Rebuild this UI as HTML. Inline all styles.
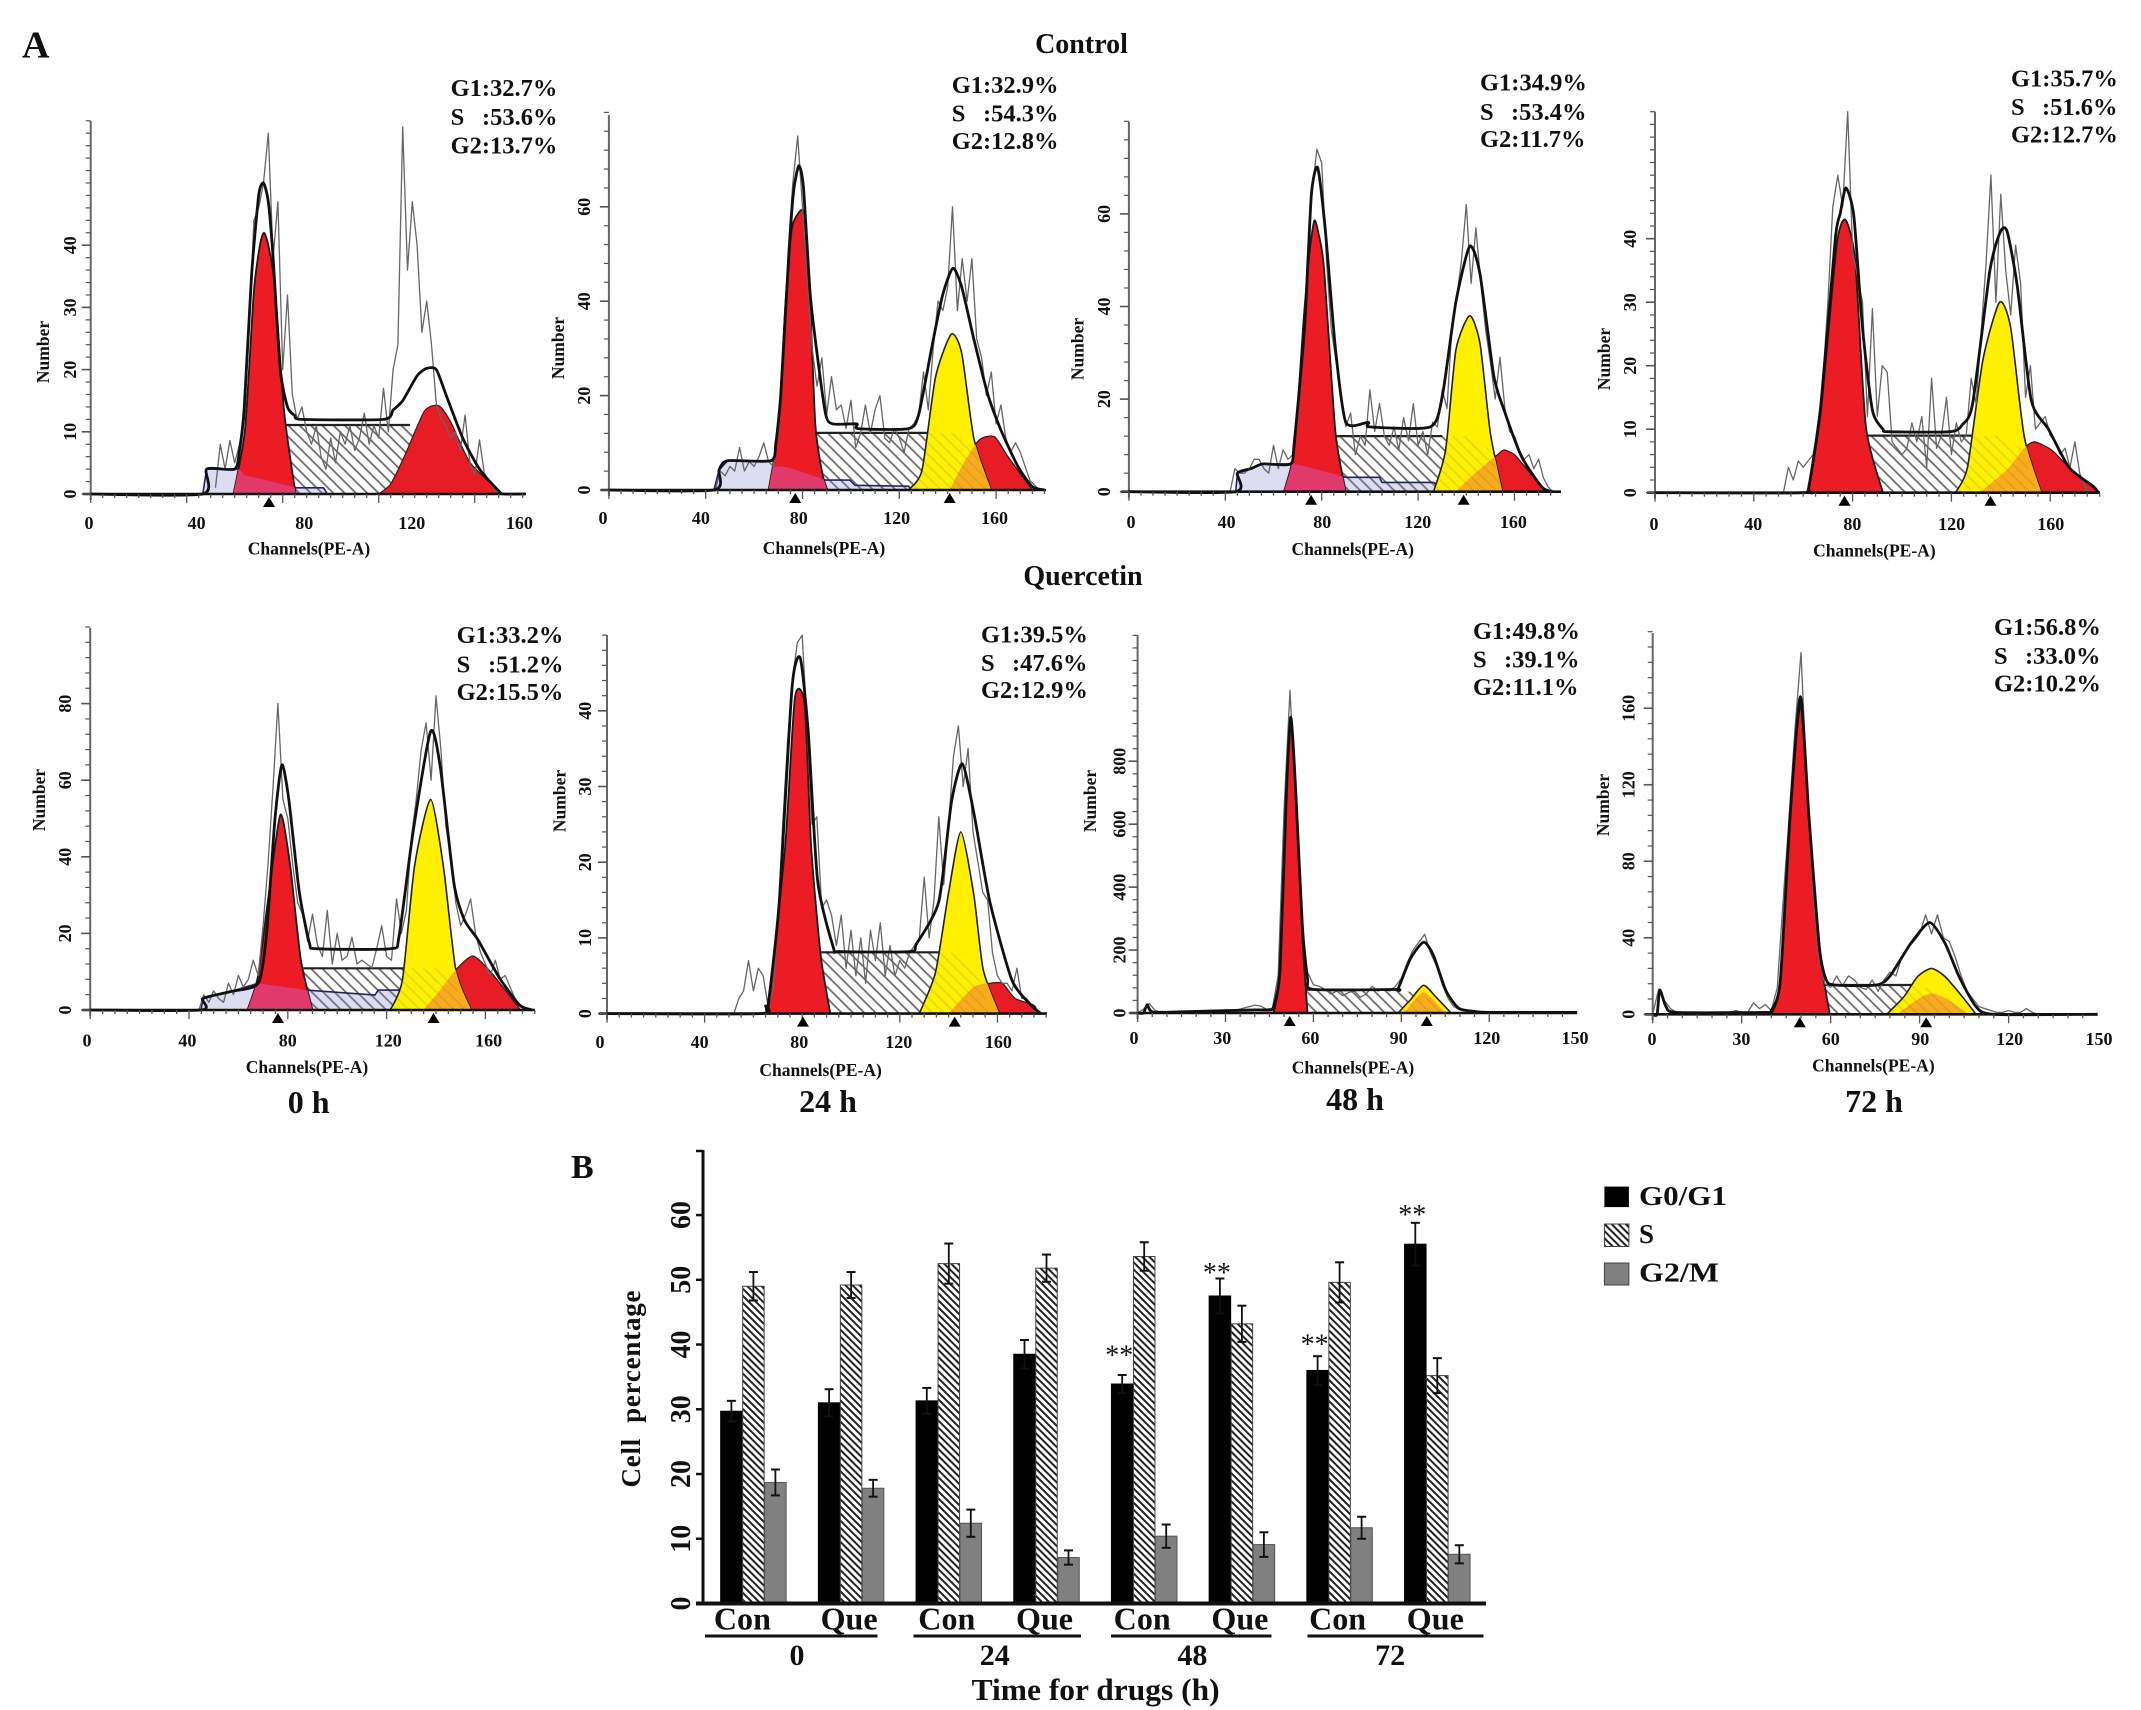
<!DOCTYPE html>
<html lang="en">
<head>
<meta charset="utf-8">
<title>Cell cycle analysis</title>
<style>
html,body{margin:0;padding:0;background:#fff;}
svg{display:block;}
text{font-family:"Liberation Serif",serif;font-weight:bold;fill:#111;}
.stat{font-size:24.5px;}
.ttl{font-size:28px;text-anchor:middle;}
.hr{font-size:32px;text-anchor:middle;}
.ax{font-size:17.5px;}
.tk{font-size:18px;text-anchor:middle;}
</style>
</head>
<body>
<svg id="figure" xmlns="http://www.w3.org/2000/svg" width="2141" height="1710" viewBox="0 0 2141 1710">
<defs id="defs">
<pattern id="hatch" width="8" height="8" patternUnits="userSpaceOnUse" patternTransform="rotate(45)"><rect width="8" height="8" fill="#fff"/><line x1="0" y1="1" x2="8" y2="1" stroke="#666" stroke-width="1.7"/></pattern>
<pattern id="hatchClear" width="8" height="8" patternUnits="userSpaceOnUse" patternTransform="rotate(45)"><line x1="0" y1="1" x2="8" y2="1" stroke="#666" stroke-width="1.7"/></pattern>
<pattern id="hatchDense" width="5" height="5" patternUnits="userSpaceOnUse" patternTransform="rotate(45)"><rect width="5" height="5" fill="#fff"/><line x1="0" y1="1" x2="5" y2="1" stroke="#222" stroke-width="2"/></pattern>
</defs>
<rect width="2141" height="1710" fill="#fff"/>

<text x="22" y="57.5" font-size="38">A</text>
<text x="571" y="1178" font-size="34">B</text>
<text class="ttl" x="1081.5" y="53">Control</text>
<text class="ttl" x="1083" y="585">Quercetin</text>
<text class="hr" x="308.6" y="1113">0 h</text>
<text class="hr" x="828" y="1112">24 h</text>
<text class="hr" x="1355" y="1110">48 h</text>
<text class="hr" x="1874" y="1112">72 h</text>

<g id="histograms"></g>
<g id="bars">
<line x1="705" x2="877.5" y1="1636" y2="1636" stroke="#111" stroke-width="3"/>
<line x1="913.5" x2="1081" y1="1636" y2="1636" stroke="#111" stroke-width="3"/>
<line x1="1111" x2="1271.5" y1="1636" y2="1636" stroke="#111" stroke-width="3"/>
<line x1="1307.5" x2="1483.5" y1="1636" y2="1636" stroke="#111" stroke-width="3"/>
</g>

<g class="stat">
<text class="stat" x="450.6" y="96">G1:32.7%</text><text class="stat" x="450.6" y="125">S<tspan x="482">:53.6%</tspan></text><text class="stat" x="450.6" y="153.5">G2:13.7%</text></g>
<g>
<text class="stat" x="951.7" y="93">G1:32.9%</text><text class="stat" x="951.7" y="121.7">S<tspan x="983">:54.3%</tspan></text><text class="stat" x="951.7" y="149">G2:12.8%</text></g>
<g>
<text class="stat" x="1480" y="90.7">G1:34.9%</text><text class="stat" x="1480" y="120">S<tspan x="1511">:53.4%</tspan></text><text class="stat" x="1480" y="147">G2:11.7%</text></g>
<g>
<text class="stat" x="2011" y="86.7">G1:35.7%</text><text class="stat" x="2011" y="115">S<tspan x="2042">:51.6%</tspan></text><text class="stat" x="2011" y="142.7">G2:12.7%</text></g>
<g>
<text class="stat" x="456.6" y="643">G1:33.2%</text><text class="stat" x="456.6" y="672.7">S<tspan x="488">:51.2%</tspan></text><text class="stat" x="456.6" y="700">G2:15.5%</text></g>
<g>
<text class="stat" x="981" y="642.5">G1:39.5%</text><text class="stat" x="981" y="671">S<tspan x="1012">:47.6%</tspan></text><text class="stat" x="981" y="698">G2:12.9%</text></g>
<g>
<text class="stat" x="1473" y="639">G1:49.8%</text><text class="stat" x="1473" y="667.5">S<tspan x="1504">:39.1%</tspan></text><text class="stat" x="1473" y="695">G2:11.1%</text></g>
<g>
<text class="stat" x="1994" y="635">G1:56.8%</text><text class="stat" x="1994" y="664">S<tspan x="2025">:33.0%</tspan></text><text class="stat" x="1994" y="691.7">G2:10.2%</text></g>

<g>
<rect x="1604.4" y="1186.6" width="24.5" height="20.5" fill="#000"/>
<text x="1639" y="1205" font-size="27" textLength="88" lengthAdjust="spacingAndGlyphs">G0/G1</text>
<rect x="1604.4" y="1224" width="24.5" height="22.5" fill="url(#hatchDense)" stroke="#444"/>
<text x="1639" y="1243" font-size="27">S</text>
<rect x="1604.4" y="1263" width="24.5" height="22" fill="#808080" stroke="#444"/>
<text x="1639" y="1281.7" font-size="27" textLength="80" lengthAdjust="spacingAndGlyphs">G2/M</text>
</g>
</svg>

<script>
// ---- Histogram data: [channel, count] ----
const ctrl0G1 = [[59.5,0],[64.3,10.4],[68,32.6],[70.5,40],[72.2,42],[74,40],[76.6,33.8],[80.6,13.3],[85,1],[86,0]];
const ctrl0Yellow = [];
const ctrl0Tail = [[120,0],[125,1.6],[131,6.3],[139,13.3],[145,14.2],[150,11.6],[158,5.1],[170,0.5],[171,0]];
const ctrl0S = [[78,11.1],[133,11.1],[136,10],[142,10],[150,0],[84,0]];
const ctrl0Debris = [[46.7,0],[48.3,4],[62,4],[64,3],[70,2.5],[85.8,1],[97,1],[98.6,0]];
const ctrl0Env = [[0,0],[46.7,0],[48.3,4],[60,4],[62,7],[64,14],[67,35],[70,48],[72,50],[74,47],[76,38],[79,20],[82,14],[85,12.6],[88,12],[122,12],[126,13.5],[130,15],[136,19],[140,20.2],[144,20],[148,16],[155,9],[162,4],[170,0.5],[172,0],[181,0]];
const ctrl0Noise = [1,8,4,8.6,5,8,12,26,44,46,50,58,38,47,20,32,16,12,14,10,8,11,6,4,9,5,10,8,11,7,9,13,8,11,9,17,10,20,24,59,36,47,40,26,31,24,14.5,12,11,9,10,7,12.7,5,3,8.7,3.4,2,1,0];
const ctrl0Arrows = [74.3];

const ctrl24G1 = [[66,0],[70,13],[73,40],[75.5,55],[77.5,58],[80.4,59],[82.5,48],[85.3,14],[88.2,3.5],[90.3,0]];
const ctrl24Yellow = [[123.8,0],[129.4,4.2],[135,24],[141.5,33],[145.8,29],[150.8,11],[158,0]];
const ctrl24Tail = [[140.8,0],[146.5,5.6],[153,10.6],[159.3,11.3],[165,7],[175,0]];
const ctrl24S = [[83,12.1],[134,12.1],[146,12],[152,9],[158,0],[88,0]];
const ctrl24Debris = [[43.4,0],[45.5,4.2],[49,6.2],[68,6.2],[68.2,5],[74,4.8],[89.6,2.1],[99.6,2.1],[101.7,1],[123.8,0.8],[125,0]];
const ctrl24Env = [[0,0],[43.4,0],[45.5,4.2],[49,6.2],[67,6.2],[69,10],[71,20],[73,38],[75,55],[76.5,64],[78.5,68.7],[80.4,64],[83.2,41.5],[86,29],[89.6,16],[92.5,14],[102.4,14],[103,13],[123.8,13],[128,16],[133.7,31],[138,41.5],[142.2,47],[145.8,43],[150.8,32],[156.5,20.4],[162,12.7],[169,5],[175,0.7],[180,0]];
const ctrl24Noise = [0,4,3,5,4,9,4,6,5,7,10,6,5,12,25,50,65,75,60,45,30,22,28,16,24,17,18,13,19,9,12,18,12,17,20,11,10,13,11,8,13,14,16,25,17,30,40,38,43,60,38,49,40,49,32,28,20,25,14,18,11,8,10,8,5,2,1,0];
const ctrl24Arrows = [77,140.8];

const ctrl48G1 = [[64.3,0],[68.6,9],[72.5,37],[75,52],[77,58.6],[79,55],[81,48],[85.7,13],[90,0]];
const ctrl48Yellow = [[126.4,0],[131.4,9],[135.7,30.6],[141.4,38],[145.7,32],[150,12.6],[155,0]];
const ctrl48Tail = [[135.7,0],[144.3,4.3],[152.9,8],[155.7,9],[160,8],[164.3,5.4],[171.4,1],[175.7,0]];
const ctrl48S = [[83,12],[130,12],[142,12],[150,9],[155,0],[88,0]];
const ctrl48Debris = [[44.3,0],[45,4],[50.7,5],[55.7,6],[68.6,6],[72,5.6],[90,3.1],[104,3.1],[105,2],[126.4,2],[133,0]];
const ctrl48Env = [[0,0],[44.3,0],[45,4],[50.7,5],[55.7,6],[67,6],[68.6,10.4],[72.9,35.6],[75.7,64],[78.3,70],[81.4,57],[85.7,31],[90,15],[99.3,15],[100,14],[125,14],[130,20.5],[135.7,41],[141.4,53],[145.7,47],[151.4,25],[155.7,17.6],[162.9,7.6],[171.4,1],[175.7,0]];
const ctrl48Noise = [0,5,4,4,5,7,7,5,4,10,5,9,7,8,15,28,50,65,74,71,50,35,28,21,14,17,8,12,10,22,13,19,12,10,14,9,16,11,19,10,13,8,15,14,22,18,35,42,50,62,45,57,45,35,28,20,29,18,13,12,9,7,8,5,7,3,1,0];
const ctrl48Arrows = [75.6,138.9];

const ctrl72G1 = [[60,0],[62.3,1],[67.2,13],[73.5,38.8],[77,43],[81,36.7],[85.4,10.4],[92.3,0]];
const ctrl72Yellow = [[121.6,0],[126.5,4],[132.8,21],[139.5,30],[144,26],[149.5,8.8],[156.5,0]];
const ctrl72Tail = [[131.4,0],[142.5,3.6],[149.5,7],[153.7,8],[160.7,6.7],[167.6,4],[177.4,1],[179.5,0]];
const ctrl72S = [[84,9],[130,9],[140,9],[148,7],[155,0],[90,0]];
const ctrl72Debris = [];
const ctrl72Env = [[0,0],[60,0],[62.3,1],[67.2,14],[73,40],[75,44],[77.3,48],[80.5,43.6],[84,26],[88,13],[92.3,10],[94.4,9.6],[119.5,9.6],[124.4,10.7],[128.6,14],[135.6,35],[139.7,41],[142.5,41.2],[146.7,32.5],[152.3,14.6],[159.3,10],[167.6,4],[177.4,1],[179.5,0]];
const ctrl72Noise = [0,4,2,5,4,5,6,10,18,30,45,50,45,60,38,34,30,12,29,12,20,19,8,7,6,7,11,8,12,4,18,7,9,15,6,11,8,9,18,14,25,36,50,30,47,35,28,39,33,15,20,10,11,12,9,8,6,7,4,8,3,1,0];
const ctrl72Arrows = [76.7,135.8];

const que0G1 = [[63.7,0],[67.9,8.7],[72,28.7],[77,51],[81,37.5],[85.3,13],[90,0]];
const que0Yellow = [[121.5,0],[126.4,7.8],[131.3,37.5],[137.8,55],[143,37.5],[148,10.5],[154.3,0]];
const que0Tail = [[134.8,0],[141.7,5.2],[148,10.5],[155,14.1],[162.6,9.6],[173.8,0.4],[175,0]];
const que0S = [[83,10.9],[128,10.9],[140,10.9],[146,9],[152,0],[88,0]];
const que0Debris = [[44.9,0],[45.6,3],[56.7,4.8],[68,7],[87.4,5.2],[115.3,3.9],[116.6,5.2],[126.4,5.2],[133.4,6],[139,3.5],[121,0]];
const que0Env = [[0,0],[44.9,0],[45.6,3],[56.7,4.8],[68,7],[71.4,20],[74.8,50],[77.6,64],[80.4,55],[84.6,31],[88.8,17.4],[91.6,16],[121.5,16],[125,19],[130.6,46],[137.8,72.7],[141.7,63.6],[147.3,33],[151.5,23.5],[157,18.3],[165.4,8.7],[173.8,1.3],[179,0]];
const que0Noise = [0,4,2,5,3,2,7,4,9,6,8,13,9,22,38,58,80,55,50,38,28,25,18,25,17,14,26,12,20,13,14,19,12,13,12,11,16,22,14,13,29,20,26,45,55,68,75,60,82,68,48,40,28,22,25,29,20,15,12,9,13,8,9,6,3,1,0];
const que0Arrows = [76,139];

const que24G1 = [[66,0],[73,22],[77,41.7],[81,40.8],[83.7,22],[87.6,7.7],[91.5,0]];
const que24Yellow = [[128,0],[134.6,5.4],[139.9,15.8],[145,24],[150.3,15.8],[154.2,5.8],[160.8,0]];
const que24Tail = [[139.9,0],[150.3,3.5],[156.9,4],[162,4],[167.3,2],[175,1.1],[176.5,0]];
const que24S = [[84,8.1],[137,8.1],[146,8],[152,5],[157,0],[90,0]];
const que24Debris = [];
const que24Env = [[0,0],[62.7,0],[65,1],[66,1],[70.6,14.8],[75.8,43],[79.2,47],[82.4,37.5],[86.3,17.6],[92.8,8.7],[95.4,8.2],[124.2,8.2],[126.8,9.2],[136,14.8],[141.2,28],[145.6,33],[150.3,26.6],[156.9,14.8],[166,4.4],[173.9,1.1],[177.8,0]];
const que24Noise = [0,2,3,7,3,6,5,1,3,12,25,36,44,49,50,38,25,26,14,15,13,9,13,6,11,5,10,4,11,7,12,5,9,5,7,6,8,9,10,18,10,15,26,17,25,34,38,30,35,24,20,16,15,8,5,4,4,3,6,2,2,1,0];
const que24Arrows = [80.3,142.5];

const que48G1 = [[46.4,0],[48.6,128],[50.8,696],[52.3,940],[54,696],[56.2,242],[58,0]];
const que48Yellow = [[88.9,0],[93.2,43],[97.6,88],[102,49],[107,0]];
const que48Tail = [[91,0],[97.6,66],[105,0]];
const que48S = [[56,74],[90,74],[96,60],[100,40],[104,0],[58,0]];
const que48Debris = [];
const que48Env = [[0,0],[2,0],[3.3,26],[5.4,3],[20,5],[40,10],[45,10],[46.4,20],[48.6,135],[50.8,700],[52.3,940],[54,700],[56.2,280],[58,110],[60,75],[88,75],[88.9,77],[93.2,174],[97.6,225],[100.9,185],[105.2,72],[109.6,15],[115,5],[120,2],[150,2]];
const que48Noise = [0,12,30,8,3,2,2,2,3,2,5,6,6,8,7,6,8,10,15,20,25,22,12,15,120,650,1025,650,280,130,90,85,75,60,70,55,65,70,50,60,85,70,75,70,85,110,160,200,225,250,190,150,90,45,20,10,8,6,4,3,2,2,2,2,2,2,2,2,2,2,2,2,2,2,2,2];
const que48Arrows = [51.9,98.7];

const que72G1 = [[40,0],[42.9,16],[46.3,103],[49.8,161],[52.7,103],[56.2,33.6],[59.7,0]];
const que72Yellow = [[78.9,0],[84.7,9.2],[89.3,19.7],[94,24],[98.6,19.7],[104.4,9.2],[109,0]];
const que72Tail = [[82.3,0],[89.9,8.4],[94,11],[98.6,8.4],[106.7,0]];
const que72S = [[56,15.3],[88,15.3],[94,13],[100,8],[105,0],[59,0]];
const que72Debris = [];
const que72Env = [[0,0],[1.5,0],[2.4,12.7],[4.5,4],[8,1],[38,1],[40,2],[43,17],[46.3,103],[49.8,166],[52.7,103],[56.2,35],[58.5,18],[61.4,15.3],[75.4,15.3],[80,20],[87,37],[93.4,48],[98.6,37],[103.2,20],[109,4],[115,0],[150,0]];
const que72Noise = [0,13,7,3,1,1,1,1,1,1,1,1,1,1,2,1,1,6,3,5,2,14,60,103,150,189,120,65,30,16,14,20,15,20,18,14,13,18,12,18,22,20,30,35,38,42,52,42,52,40,38,30,20,12,8,4,3,2,1,1,2,1,1,3,1,0];
const que72Arrows = [49.6,92.2];

// Tick labels for each panel
const xTicks160 = [0,40,80,120,160];
const xTicks150 = [0,30,60,90,120,150];
const yTicksA = [0,10,20,30,40];
const yTicksB = [0,20,40,60];
const yTicksC = [0,20,40,60,80];
const yTicksD = [0,200,400,600,800];
const yTicksE = [0,40,80,120,160];

// Panel axis calibration (scales only)
const panels = [
 {n:'control-0h',x0:90.7,kx:2.40,y0:494,ky:6.22,top:121,right:526,lx0:89,lk:2.69,lb:529,nb:49,ny:352,yb:76,cx:309,cb:554.5,yMax:60,yMinor:2,xT:xTicks160,yT:yTicksA,g1:ctrl0G1,yel:ctrl0Yellow,tail:ctrl0Tail,s:ctrl0S,deb:ctrl0Debris,env:ctrl0Env,noise:ctrl0Noise,nStart:52,arr:ctrl0Arrows},
 {n:'control-24h',x0:608.9,kx:2.42,y0:490,ky:4.72,top:115,right:1046,lx0:603,lk:2.447,lb:524,nb:564,ny:348,yb:590,cx:824,cb:554,yMax:80,yMinor:4,xT:xTicks160,yT:yTicksB,g1:ctrl24G1,yel:ctrl24Yellow,tail:ctrl24Tail,s:ctrl24S,deb:ctrl24Debris,env:ctrl24Env,noise:ctrl24Noise,nStart:44,arr:ctrl24Arrows},
 {n:'control-48h',x0:1128.9,kx:2.41,y0:491.7,ky:4.63,top:121.7,right:1561,lx0:1131,lk:2.39,lb:528,nb:1083.4,ny:349,yb:1110,cx:1352.7,cb:555,yMax:80,yMinor:4,xT:xTicks160,yT:yTicksB,g1:ctrl48G1,yel:ctrl48Yellow,tail:ctrl48Tail,s:ctrl48S,deb:ctrl48Debris,env:ctrl48Env,noise:ctrl48Noise,nStart:42,arr:ctrl48Arrows},
 {n:'control-72h',x0:1655,kx:2.47,y0:492.7,ky:6.35,top:111.7,right:2100,lx0:1654,lk:2.48,lb:530,nb:1610,ny:359,yb:1636,cx:1874.4,cb:556.7,yMax:60,yMinor:2,xT:xTicks160,yT:yTicksA,g1:ctrl72G1,yel:ctrl72Yellow,tail:ctrl72Tail,s:ctrl72S,deb:ctrl72Debris,env:ctrl72Env,noise:ctrl72Noise,nStart:52,arr:ctrl72Arrows},
 {n:'quercetin-0h',x0:90.2,kx:2.47,y0:1010,ky:3.83,top:628,right:535,lx0:87,lk:2.51,lb:1046.7,nb:45,ny:800,yb:71,cx:307,cb:1073,yMax:100,yMinor:4,xT:xTicks160,yT:yTicksC,g1:que0G1,yel:que0Yellow,tail:que0Tail,s:que0S,deb:que0Debris,env:que0Env,noise:que0Noise,nStart:44,arr:que0Arrows},
 {n:'quercetin-24h',x0:607,kx:2.44,y0:1013.6,ky:7.57,top:635,right:1047,lx0:600,lk:2.49,lb:1048,nb:565.5,ny:801,yb:591,cx:820.6,cb:1076,yMax:50,yMinor:2,xT:xTicks160,yT:yTicksA,g1:que24G1,yel:que24Yellow,tail:que24Tail,s:que24S,deb:que24Debris,env:que24Env,noise:que24Noise,nStart:52,arr:que24Arrows},
 {n:'quercetin-48h',x0:1137.6,kx:2.93,y0:1013,ky:0.3147,top:635,right:1577,lx0:1134,lk:2.94,lb:1044,nb:1096,ny:801,yb:1125.5,cx:1353,cb:1073.6,yMax:1200,yMinor:40,xT:xTicks150,yT:yTicksD,g1:que48G1,yel:que48Yellow,tail:que48Tail,s:que48S,deb:que48Debris,env:que48Env,noise:que48Noise,nStart:0,arr:que48Arrows},
 {n:'quercetin-72h',x0:1652.7,kx:2.966,y0:1014.3,ky:1.913,top:633,right:2097.6,lx0:1652,lk:2.98,lb:1045,nb:1609,ny:805,yb:1634.4,cx:1873.4,cb:1071.7,yMax:200,yMinor:8,xT:xTicks150,yT:yTicksE,g1:que72G1,yel:que72Yellow,tail:que72Tail,s:que72S,deb:que72Debris,env:que72Env,noise:que72Noise,nStart:0,arr:que72Arrows}
];
const noiseStep = 2;

// ---- Bar chart data ----
const barCategories = ['Con','Que','Con','Que','Con','Que','Con','Que'];
const barGroups = ['0','24','48','72'];
const barTicks = [0,10,20,30,40,50,60];
const g0g1Values = [29.7,31,31.3,38.5,33.9,47.5,36,55.5];
const sValues = [49,49.2,52.5,51.8,53.6,43.2,49.6,35.2];
const g2mValues = [18.7,17.8,12.4,7.1,10.4,9.1,11.7,7.6];
const g0g1Errors = [1.6,2.1,2,2.2,1.4,2.7,2.2,3.3];
const sErrors = [2.2,2,3.1,2.1,2.2,2.8,3.1,2.7];
const g2mErrors = [2,1.3,2.1,1.1,1.8,1.9,1.7,1.4];
const starGaps = [null,null,null,null,3.6,1.5,2.4,1.8];

const NS = 'http://www.w3.org/2000/svg';
function mk(tag, name, attrs, parent) {
  const e = document.createElementNS(NS, tag);
  
  
  for (const k in attrs) e.setAttribute(k, attrs[k]);
  parent.appendChild(e);
  return e;
}
function smooth(pts) {
  if (!pts.length) return '';
  let d = 'M' + pts[0][0].toFixed(1) + ' ' + pts[0][1].toFixed(1);
  for (let i = 0; i < pts.length - 1; i++) {
    const a = pts[Math.max(0, i - 1)], b = pts[i], c = pts[i + 1], e = pts[Math.min(pts.length - 1, i + 2)];
    const f = 1 / 9;
    d += 'C' + (b[0] + (c[0] - a[0]) * f).toFixed(1) + ' ' + (b[1] + (c[1] - a[1]) * f).toFixed(1) + ' ' +
         (c[0] - (e[0] - b[0]) * f).toFixed(1) + ' ' + (c[1] - (e[1] - b[1]) * f).toFixed(1) + ' ' +
         c[0].toFixed(1) + ' ' + c[1].toFixed(1);
  }
  return d;
}
function straight(pts) {
  return pts.map((p, i) => (i ? 'L' : 'M') + p[0].toFixed(1) + ' ' + p[1].toFixed(1)).join('');
}

const defs = document.getElementById('defs');
const histRoot = document.getElementById('histograms');

panels.forEach(function (p) {
  const x = ch => p.x0 + p.kx * ch;
  const y = c => p.y0 - p.ky * c;
  const map = arr => arr.map(q => [x(q[0]), y(q[1])]);
  const g = mk('g', 'histogram-' + p.n, {}, histRoot);

  const g1Path = smooth(map(p.g1)) + 'Z';
  const yelPath = p.yel.length ? smooth(map(p.yel)) + 'Z' : '';
  const tailPath = smooth(map(p.tail)) + 'Z';
  const debPath = p.deb.length ? straight(map(p.deb)) + 'Z' : '';
  const sPts = map(p.s);

  mk('path', 's-phase-fill', {d: straight(sPts) + 'Z', fill: 'url(#hatch)'}, g);
  mk('path', 's-phase-top', {d: straight(sPts.slice(0, 2)), fill: 'none', stroke: '#222', 'stroke-width': 2.2}, g);
  if (debPath) mk('path', 'debris-fill', {d: debPath, fill: 'rgba(130,130,210,.28)', stroke: '#23235e', 'stroke-width': 1.6}, g);

  mk('path', 'g2-tail-fill', {d: tailPath, fill: '#e81c24', stroke: '#222', 'stroke-width': 1.2}, g);
  if (yelPath) {
    mk('path', 'g2-yellow-fill', {d: yelPath, fill: '#fff000', stroke: '#222', 'stroke-width': 1.6}, g);
    const cp = mk('clipPath', 'yellow-clip', {id: 'clipY-' + p.n}, defs);
    mk('path', 'yellow-clip-shape', {d: yelPath}, cp);
    mk('path', 'g2-overlap-fill', {d: tailPath, fill: '#f8ac1c', 'clip-path': 'url(#clipY-' + p.n + ')'}, g);
    mk('path', 's-phase-over-yellow', {d: straight(sPts) + 'Z', fill: 'url(#hatchClear)', opacity: .18, 'clip-path': 'url(#clipY-' + p.n + ')'}, g);
  }
  mk('path', 'g1-peak-fill', {d: g1Path, fill: '#ec1c24', stroke: '#1a1a1a', 'stroke-width': 1.8}, g);
  if (debPath) {
    const cp2 = mk('clipPath', 'g1-clip', {id: 'clipG-' + p.n}, defs);
    mk('path', 'g1-clip-shape', {d: g1Path}, cp2);
    mk('path', 'g1-overlap-fill', {d: debPath, fill: '#e2396c', 'clip-path': 'url(#clipG-' + p.n + ')'}, g);
  }

  const noisePts = p.noise.map((v, i) => [x(p.nStart + i * noiseStep), y(v)]);
  mk('path', 'raw-histogram-line', {d: straight(noisePts), fill: 'none', stroke: '#666', 'stroke-width': 1.3, 'stroke-linejoin': 'round'}, g);
  mk('path', 'fit-envelope-line', {d: smooth(map(p.env)), fill: 'none', stroke: '#111', 'stroke-width': 2.8, 'stroke-linejoin': 'round'}, g);

  // axes
  mk('line', 'y-axis', {x1: p.x0, x2: p.x0, y1: p.top, y2: p.y0 + 6, stroke: '#666', 'stroke-width': 2}, g);
  mk('line', 'x-axis', {x1: p.x0 - 8, x2: p.right, y1: p.y0, y2: p.y0, stroke: '#111', 'stroke-width': 2.6}, g);
  for (let c = 0; c <= p.yMax + 0.001; c += p.yMinor) {
    const major = p.yT.indexOf(c) >= 0;
    mk('line', 'y-tick', {x1: p.x0 - (major ? 9 : 5), x2: p.x0, y1: y(c), y2: y(c), stroke: '#555', 'stroke-width': major ? 1.6 : 1.2}, g);
  }
  const xEnd = (p.right - p.x0) / p.kx;
  for (let c = 0; c <= xEnd; c += 5) {
    const major = p.xT.indexOf(c) >= 0;
    mk('line', 'x-tick', {x1: x(c), x2: x(c), y1: p.y0, y2: p.y0 + (major ? 9 : 4), stroke: '#555', 'stroke-width': 1.3}, g);
  }
  p.xT.forEach(function (v) {
    const t = mk('text', 'x-tick-label', {class: 'tk', x: p.lx0 + p.lk * v, y: p.lb}, g);
    t.textContent = v;
  });
  p.yT.forEach(function (v) {
    const t = mk('text', 'y-tick-label', {class: 'tk', transform: 'translate(' + p.yb + ' ' + y(v) + ') rotate(-90)'}, g);
    t.textContent = v;
  });
  const nt = mk('text', 'y-axis-title', {class: 'ax', 'text-anchor': 'middle', transform: 'translate(' + p.nb + ' ' + p.ny + ') rotate(-90)'}, g);
  nt.textContent = 'Number';
  const ct = mk('text', 'x-axis-title', {class: 'ax', 'text-anchor': 'middle', x: p.cx, y: p.cb}, g);
  ct.textContent = 'Channels(PE-A)';

  p.arr.forEach(function (ch) {
    const ax = x(ch);
    mk('path', 'peak-marker', {d: 'M' + (ax - 6) + ' ' + (p.y0 + 13) + 'L' + ax + ' ' + (p.y0 + 3) + 'L' + (ax + 6) + ' ' + (p.y0 + 13) + 'Z', fill: '#000'}, g);
  });
});

// ---- Bar chart ----
const barRoot = document.getElementById('bars');
const barY = v => 1603.5 - 6.474 * v;
const barX = (i, j) => 731.4 + 97.7 * i + 22 * j;
const barW = 21.5;

const barSeries = [
  {name: 'g0-g1', vals: g0g1Values, errs: g0g1Errors, fill: '#000', stroke: '#000'},
  {name: 's', vals: sValues, errs: sErrors, fill: 'url(#hatchDense)', stroke: '#444'},
  {name: 'g2-m', vals: g2mValues, errs: g2mErrors, fill: '#808080', stroke: '#555'}
];
barSeries.forEach(function (s, j) {
  s.vals.forEach(function (v, i) {
    const cx = barX(i, j);
    mk('rect', 'bar-' + s.name, {x: cx - barW / 2, y: barY(v), width: barW, height: barY(0) - barY(v), fill: s.fill, stroke: s.stroke, 'stroke-width': 1}, barRoot);
    const hi = barY(v + s.errs[i]);
    const lo = barY(v - s.errs[i]);
    mk('line', 'error-bar-' + s.name, {x1: cx, x2: cx, y1: hi, y2: lo, stroke: '#111', 'stroke-width': 1.8}, barRoot);
    mk('line', 'error-cap-' + s.name, {x1: cx - 4.5, x2: cx + 4.5, y1: hi, y2: hi, stroke: '#111', 'stroke-width': 2}, barRoot);
    mk('line', 'error-cap-' + s.name, {x1: cx - 4.5, x2: cx + 4.5, y1: lo, y2: lo, stroke: '#111', 'stroke-width': 2}, barRoot);
  });
});
starGaps.forEach(function (gap, i) {
  if (gap === null) return;
  const t = mk('text', 'significance-stars', {x: barX(i, 0) - 3, y: barY(g0g1Values[i] + g0g1Errors[i] + gap) + 13, 'text-anchor': 'middle', 'font-size': 28, style: 'font-weight:normal'}, barRoot);
  t.textContent = '**';
});
mk('line', 'bar-y-axis', {x1: 703, x2: 703, y1: 1150, y2: 1605, stroke: '#111', 'stroke-width': 3}, barRoot);
mk('line', 'bar-x-axis', {x1: 696, x2: 1486, y1: 1603.5, y2: 1603.5, stroke: '#111', 'stroke-width': 4}, barRoot);
mk('line', 'bar-y-top-tick', {x1: 696, x2: 703, y1: 1151, y2: 1151, stroke: '#111', 'stroke-width': 2.5}, barRoot);
barTicks.forEach(function (v) {
  mk('line', 'bar-y-tick', {x1: 696, x2: 703, y1: barY(v), y2: barY(v), stroke: '#111', 'stroke-width': 2.5}, barRoot);
  const t = mk('text', 'bar-y-tick-label', {'text-anchor': 'middle', 'font-size': 28, transform: 'translate(690 ' + barY(v) + ') rotate(-90)'}, barRoot);
  t.textContent = v;
});
barCategories.forEach(function (c, i) {
  const lx = barX(i, 1) - 2 - (i === 0 ? 9 : 0);
  const t = mk('text', 'bar-category-label', {x: lx, y: 1629.4, 'text-anchor': 'middle', 'font-size': 32, textLength: 57, lengthAdjust: 'spacingAndGlyphs'}, barRoot);
  t.textContent = c;
});
barGroups.forEach(function (c, i) {
  const t = mk('text', 'bar-group-label', {x: 797 + 197.7 * i, y: 1665, 'text-anchor': 'middle', 'font-size': 30}, barRoot);
  t.textContent = c;
});
const yTitle = mk('text', 'bar-y-axis-title', {'text-anchor': 'middle', 'font-size': 27, textLength: 197, lengthAdjust: 'spacing', transform: 'translate(640 1389) rotate(-90)'}, barRoot);
yTitle.textContent = 'Cell\u00a0\u00a0percentage';
const xTitle = mk('text', 'bar-x-axis-title', {x: 1095.6, y: 1700, 'text-anchor': 'middle', 'font-size': 30.5, textLength: 248, lengthAdjust: 'spacingAndGlyphs'}, barRoot);
xTitle.textContent = 'Time for drugs (h)';
</script>
</body>
</html>
